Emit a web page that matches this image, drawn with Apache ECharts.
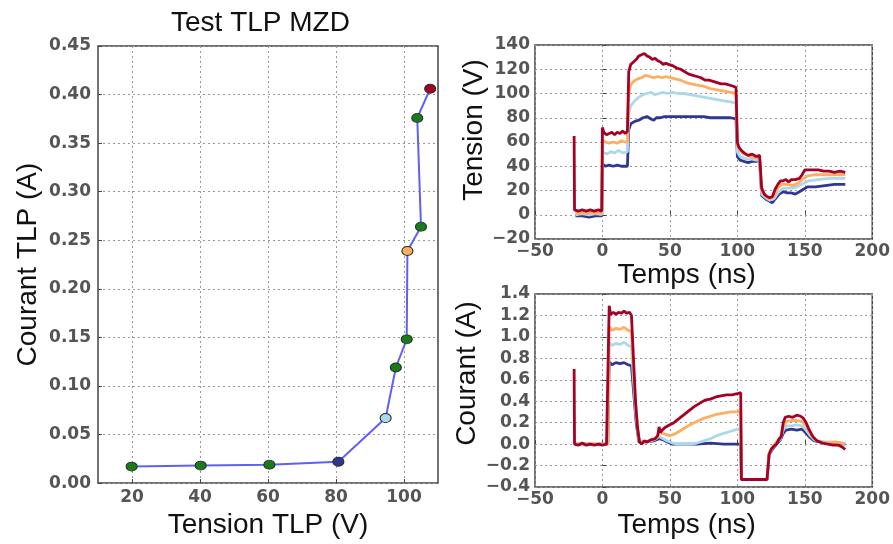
<!DOCTYPE html>
<html>
<head>
<meta charset="utf-8">
<script src="https://cdn.jsdelivr.net/npm/echarts@6/dist/echarts.min.js"></script>
<style>
  html, body { margin: 0; padding: 0; background: #fff; }
  #chart { width: 893px; height: 544px; }
</style>
</head>
<body>
<div id="chart"></div>
<script>
// --- courbe I-V TLP (panneau gauche)
var tlpTension = [19.9, 40.2, 60.4, 80.7, 94.6, 97.6, 100.8, 101.0, 105.0, 103.9, 107.7];
var tlpCourant = [0.017, 0.018, 0.019, 0.022, 0.067, 0.119, 0.148, 0.239, 0.264, 0.376, 0.406];
var tlpXTicks = [20, 40, 60, 80, 100];

// --- formes d'onde, [temps ns, valeur]
var tensionNavy = [[-20,-1],[-15,-1],[-10,-2],[-5,-1],[-0.5,-1],
  [0,42],[2,40],[5,41],[8,40],[11,41],[14,40],[17,40],[18.5,40],
  [19.5,70],[21,75],[24,77],[27,78],[30,80],[33,81],[36,79],[38,78],[40,80],[43,80],[46,81],[50,81],[55,81],[60,81],[65,81],[70,81],[75,81],[80,80],[85,80],[90,80],[95,80],[99,79],
  [100,48],[102,45],[105,44],[108,43],[111,44],[114,44],[116.5,45],
  [118,16],[121,13],[124,11],[126,10],[128,13],[131,17],[134,19],[137,18],[140,18],[143,17],[146,19],[149,21],[152,23],[158,23],[165,24],[172,25],[180,25]];
var tensionLight = [[-20,0],[-15,1],[-10,0],[-5,1],[-0.5,0],
  [0,52],[3,50],[6,52],[9,51],[12,53],[15,51],[18.5,52],
  [19.5,84],[21,90],[24,94],[27,97],[30,99],[33,100],[36,101],[39,99],[42,100],[45,101],[48,100],[52,101],[56,100],[60,100],[65,99],[70,98],[75,97],[80,96],[85,95],[90,94],[95,93],[99,92],
  [100,52],[102,48],[106,46],[110,46],[114,45],[116.5,45],
  [118,17],[121,14],[124,12],[127,13],[130,18],[134,22],[138,22],[142,22],[146,24],[149,26],[153,28],[160,29],[168,30],[175,30],[180,30]];
var tensionOrange = [[-20,2],[-17,1],[-14,2],[-11,1],[-8,2],[-5,1],[-2,2],[-0.5,1],
  [0,62],[2,60],[5,59],[8,60],[11,59],[14,61],[17,60],[18.5,60],
  [19.5,100],[21,107],[23,110],[26,112],[29,113],[32,115],[35,114],[38,113],[41,114],[44,113],[47,114],[50,113],[54,112],[58,111],[62,109],[66,108],[70,107],[75,106],[80,104],[85,103],[90,102],[95,101],[99,100],
  [100,58],[102,53],[105,50],[110,48],[114,47],[116.5,46],
  [118,19],[121,15],[124,13],[127,15],[130,22],[133,25],[137,25],[141,24],[145,26],[148,29],[152,32],[158,33],[165,33],[172,33],[180,33]];
var tensionRed = [[-21,65],[-20.7,4],[-18,3],[-15,4],[-12,3],[-9,4],[-6,3],[-3,4],[-0.5,3],
  [0,72],[1,68],[3,66],[5,67],[7,68],[9,66],[11,68],[13,67],[15,69],[17,67],[18.5,69],
  [19.5,118],[21,124],[23,126],[25,128],[27,131],[29,132],[31,133],[33,131],[35,130],[37,128],[39,129],[41,127],[43,126],[45,124],[47,125],[49,124],[52,123],[55,121],[58,120],[61,118],[64,116],[67,115],[70,114],[73,113],[76,111],[79,111],[82,110],[85,109],[88,108],[91,108],[94,107],[97,106],[99,105],
  [100,60],[101,56],[103,53],[105,51],[108,49],[111,50],[114,48],[116.5,49],
  [118,22],[120,17],[122,15],[124,14],[126,15],[128,21],[130,25],[132,28],[134,28],[136,29],[138,27],[140,29],[143,29],[146,30],[148,33],[150,37],[153,37],[156,37],[160,37],[164,36],[168,36],[172,35],[176,36],[180,35]];

var courantNavy = [[-20,0],[-10,0],[0,0],[4,0],
  [5,0.77],[7,0.74],[10,0.76],[13,0.75],[16,0.76],[19,0.74],[21.5,0.73],
  [23,0.5],[25,0.2],[27,0.02],[30,0.02],[33,0.02],[38,0.03],[42,0.05],[45,0.04],[48,0.02],[52,0.0],[60,0.0],[70,0.0],[80,0.01],[90,0.0],[100,0.0],[102.5,0.0],
  [103,-0.33],[122,-0.33],[123.5,-0.1],[126,-0.05],[129,0.0],[132,0.04],[134,0.1],[136,0.13],[140,0.14],[144,0.13],[148,0.14],[151,0.1],[154,0.06],[157,0.03],[162,0.02],[170,0.01],[180,0.0]];
var courantLight = [[-20,0],[-10,0],[0,0],[4,0],
  [5,0.95],[7,0.92],[10,0.94],[13,0.93],[16,0.95],[19,0.92],[21.5,0.91],
  [23,0.6],[25,0.25],[27,0.03],[30,0.02],[33,0.02],[38,0.04],[42,0.07],[45,0.05],[48,0.03],[52,0.01],[56,0.0],[60,0.0],[65,0.0],[70,0.01],[75,0.03],[80,0.05],[85,0.08],[90,0.1],[95,0.12],[100,0.14],[102.5,0.14],
  [103,-0.33],[122,-0.33],[123.5,-0.1],[126,-0.04],[129,0.01],[132,0.05],[134,0.13],[136,0.17],[140,0.17],[144,0.18],[148,0.17],[151,0.13],[154,0.08],[157,0.04],[162,0.02],[170,0.02],[180,0.01]];
var courantOrange = [[-20,0],[-10,0],[0,0],[4,0],
  [5,1.1],[7,1.06],[10,1.08],[13,1.07],[16,1.09],[19,1.06],[21.5,1.05],
  [23,0.7],[25,0.3],[27,0.05],[29,0.01],[33,0.02],[37,0.04],[40,0.05],[42,0.12],[44,0.1],[47,0.09],[50,0.08],[53,0.09],[57,0.12],[61,0.15],[65,0.18],[70,0.21],[75,0.24],[80,0.26],[85,0.28],[90,0.29],[95,0.3],[100,0.3],[102.5,0.31],
  [103,-0.33],[122,-0.33],[123.5,-0.08],[126,-0.03],[129,0.02],[132,0.06],[134,0.16],[136,0.21],[140,0.22],[144,0.22],[148,0.21],[151,0.17],[154,0.1],[157,0.05],[161,0.02],[167,0.01],[173,0.02],[180,0.0]];
var courantRed = [[-21,0.7],[-20.7,0],[-18,-0.01],[-15,0.01],[-12,-0.01],[-9,0],[-6,-0.01],[-3,0],[0,-0.01],[3,0],[4,0],
  [5,1.29],[6,1.21],[8,1.23],[10,1.21],[12,1.23],[14,1.22],[16,1.24],[18,1.22],[20,1.23],[21.5,1.2],
  [23,0.8],[24.5,0.4],[26,0.15],[27.5,0.02],[29,0.0],[31,0.03],[33,0.02],[36,0.04],[39,0.05],[41,0.08],[42,0.16],[43,0.11],[45,0.14],[47,0.16],[50,0.18],[53,0.2],[56,0.23],[60,0.27],[64,0.31],[68,0.35],[72,0.38],[76,0.41],[80,0.42],[84,0.44],[88,0.45],[92,0.46],[96,0.46],[100,0.47],[102.5,0.48],
  [103,-0.33],[108,-0.33],[114,-0.33],[120,-0.33],[122,-0.33],
  [123.5,-0.1],[125,-0.05],[127,-0.02],[129,0.0],[131,0.05],[132.5,0.07],[134,0.2],[135.5,0.25],[138,0.26],[141,0.25],[144,0.27],[147,0.26],[149,0.24],[151,0.2],[153,0.14],[156,0.07],[159,0.03],[163,0.01],[167,0.0],[171,-0.01],[175,-0.01],[178,-0.03],[180,-0.05]];

var cNavy = '#313695', cLight = '#abd9e9', cOrange = '#fdae61', cRed = '#a50026';
// couleurs des points mis en evidence sur la courbe I-V (index -> couleur)
var tlpHighlight = { 3: cNavy, 4: cLight, 7: cOrange, 10: cRed };

var tickFont = { fontFamily: 'DejaVu Sans', fontSize: 17, fontWeight: 'bold', color: '#555' };
var nameFont = { fontFamily: 'Liberation Sans', fontSize: 28, color: '#111' };
var dotted = { show: true, lineStyle: { color: '#999', type: [2, 3], width: 1 } };
var minus = function (s) { return String(s).replace('-', '\u2212'); };

function axisBase(extra) {
  var base = {
    type: 'value',
    nameLocation: 'middle',
    nameTextStyle: nameFont,
    axisLine: { show: false },
    axisTick: { show: true, inside: true, length: 4, lineStyle: { color: '#444' } },
    splitLine: dotted
  };
  for (var k in extra) base[k] = extra[k];
  return base;
}

var chart = echarts.init(document.getElementById('chart'));

var ivData = [];
for (var i = 0; i < tlpTension.length; i++) {
  var col = tlpHighlight[i] || '#1b7a1b';
  ivData.push({ value: [tlpTension[i], tlpCourant[i]], itemStyle: { color: col } });
}

function wave(data, color, xi) {
  return {
    type: 'line', data: data, xAxisIndex: xi, yAxisIndex: xi,
    showSymbol: false, animation: false,
    lineStyle: { color: color, width: 2.8 }
  };
}

var gridStyle = { show: true, borderColor: '#444', borderWidth: 1.5, backgroundColor: '#fff' };

chart.setOption({
  animation: false,
  title: {
    text: 'Test TLP MZD', left: 166, top: 4,
    textStyle: { fontFamily: 'Liberation Sans', fontSize: 28, fontWeight: 'normal', color: '#111' }
  },
  grid: [
    Object.assign({ left: 98, right: 455, top: 46, bottom: 56 }, gridStyle),
    Object.assign({ left: 535, right: 17, top: 45, bottom: 305 }, gridStyle),
    Object.assign({ left: 535, right: 17, top: 294, bottom: 57 }, gridStyle)
  ],
  xAxis: [
    axisBase({ gridIndex: 0, min: 10, max: 110, name: 'Tension TLP (V)', nameGap: 26,
      axisTick: { show: true, inside: true, length: 4, customValues: tlpXTicks, lineStyle: { color: '#444' } },
      axisLabel: Object.assign({ margin: 6, customValues: tlpXTicks }, tickFont) }),
    axisBase({ gridIndex: 1, min: -50, max: 200, interval: 50, name: 'Temps (ns)', nameGap: 22,
      nameTextStyle: Object.assign({ padding: [0, 34, 0, 0] }, nameFont),
      axisLabel: Object.assign({ margin: 4, formatter: minus }, tickFont) }),
    axisBase({ gridIndex: 2, min: -50, max: 200, interval: 50, name: 'Temps (ns)', nameGap: 24,
      nameTextStyle: Object.assign({ padding: [0, 34, 0, 0] }, nameFont),
      axisLabel: Object.assign({ margin: 4, formatter: minus }, tickFont) })
  ],
  yAxis: [
    axisBase({ gridIndex: 0, min: 0, max: 0.45, interval: 0.05, name: 'Courant TLP (A)', nameGap: 56,
      axisLabel: Object.assign({ margin: 7, formatter: function (v) { return v.toFixed(2); } }, tickFont) }),
    axisBase({ gridIndex: 1, min: -20, max: 140, interval: 20, name: 'Tension (V)', nameGap: 46,
      nameTextStyle: Object.assign({ padding: [0, 0, 0, 24] }, nameFont),
      axisLabel: Object.assign({ margin: 5, formatter: minus }, tickFont) }),
    axisBase({ gridIndex: 2, min: -0.4, max: 1.4, interval: 0.2, name: 'Courant (A)', nameGap: 46,
      nameTextStyle: Object.assign({ padding: [0, 0, 0, 34] }, nameFont),
      axisLabel: Object.assign({ margin: 5, formatter: function (v) { return minus(v.toFixed(1)); } }, tickFont) })
  ],
  series: [
    {
      type: 'line', data: ivData, xAxisIndex: 0, yAxisIndex: 0,
      symbol: 'circle', symbolSize: [11, 9],
      lineStyle: { color: '#6060f8', width: 2 },
      itemStyle: { borderColor: '#223322', borderWidth: 1 }
    },
    wave(tensionNavy, cNavy, 1),
    wave(tensionLight, cLight, 1),
    wave(tensionOrange, cOrange, 1),
    wave(tensionRed, cRed, 1),
    wave(courantNavy, cNavy, 2),
    wave(courantLight, cLight, 2),
    wave(courantOrange, cOrange, 2),
    wave(courantRed, cRed, 2)
  ]
});
</script>
</body>
</html>
